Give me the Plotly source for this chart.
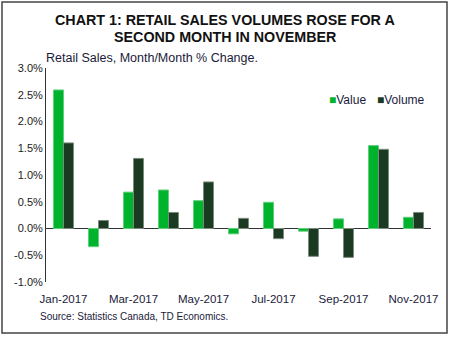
import plotly.graph_objects as go

months = ["Jan-2017", "Feb-2017", "Mar-2017", "Apr-2017", "May-2017", "Jun-2017",
          "Jul-2017", "Aug-2017", "Sep-2017", "Oct-2017", "Nov-2017"]
value = [2.59, -0.34, 0.68, 0.72, 0.52, -0.10, 0.49, -0.05, 0.18, 1.55, 0.21]
volume = [1.60, 0.15, 1.31, 0.30, 0.87, 0.19, -0.19, -0.52, -0.54, 1.48, 0.30]
tick_labels = ["Jan-2017", "Mar-2017", "May-2017", "Jul-2017", "Sep-2017", "Nov-2017"]
y_ticks = [-1.0, -0.5, 0.0, 0.5, 1.0, 1.5, 2.0, 2.5, 3.0]
title_lines = ["CHART 1: RETAIL SALES VOLUMES ROSE FOR A", "SECOND MONTH IN NOVEMBER"]
series_names = ["Value", "Volume"]

FONT = "Liberation Sans, Arial, sans-serif"
C_VAL = "#00B32C"
C_VOL = "#1B3A22"

fig = go.Figure()
fig.add_trace(go.Bar(x=months, y=value, name=series_names[0],
                     marker=dict(color=C_VAL, line=dict(color="#5fd07a", width=1))))
fig.add_trace(go.Bar(x=months, y=volume, name=series_names[1],
                     marker=dict(color=C_VOL, line=dict(color="#7a8a7c", width=1))))

L, R, T, B = 46, 19, 68, 57
pw, ph = 450 - L - R, 339 - T - B

def px2paper(px, py):
    return (px - L) / pw, (339 - B - py) / ph

fig.update_layout(
    width=450, height=339,
    margin=dict(l=L, r=R, t=T, b=B),
    paper_bgcolor="white", plot_bgcolor="white",
    barmode="group", bargap=0.43, bargroupgap=0,
    font=dict(family=FONT, color="#1a1a1a", size=11),
    showlegend=False,
    xaxis=dict(type="category", tickvals=tick_labels, ticktext=tick_labels,
               showline=False, showgrid=False, zeroline=False,
               ticks="outside", ticklen=6, tickcolor="rgba(0,0,0,0)",
               tickfont=dict(size=11.5, color="#1a1a3a")),
    yaxis=dict(range=[-1.0, 3.0], tickvals=y_ticks,
               ticktext=[f"{v:.1f}%" for v in y_ticks],
               showline=True, linecolor="#333333", linewidth=1,
               showgrid=False, zeroline=True, zerolinecolor="#333333", zerolinewidth=1,
               ticks="", tickfont=dict(size=11, color="#1a1a1a")),
)

anns = []
cx = (225 - L) / pw
for line, py in zip(title_lines, [20, 37.5]):
    _, y = px2paper(225, py)
    anns.append(dict(text=f"<b>{line}</b>", x=cx, y=y, xref="paper", yref="paper",
                     xanchor="center", yanchor="middle", showarrow=False,
                     font=dict(size=14.3, color="#111111")))
x, y = px2paper(44, 58)
anns.append(dict(text="Retail Sales, Month/Month % Change.", x=x, y=y,
                 xref="paper", yref="paper", xanchor="left", yanchor="middle",
                 showarrow=False, font=dict(size=12.5, color="#1a1a3a")))
x, y = px2paper(38, 316)
anns.append(dict(text="Source: Statistics Canada, TD Economics.", x=x, y=y,
                 xref="paper", yref="paper", xanchor="left", yanchor="middle",
                 showarrow=False, font=dict(size=10, color="#1a1a3a")))
for name, col, lx in zip(series_names, [C_VAL, C_VOL], [327, 375]):
    x, y = px2paper(lx, 100)
    anns.append(dict(text=f"<span style='color:{col}'>■</span>{name}",
                     x=x, y=y, xref="paper", yref="paper", xanchor="left", yanchor="middle",
                     showarrow=False, font=dict(size=12, color="#1a1a3a")))
fig.update_layout(annotations=anns)

x0, y0 = px2paper(2, 333)
x1, y1 = px2paper(447, 2)
fig.add_shape(type="rect", xref="paper", yref="paper", x0=x0, x1=x1, y0=y0, y1=y1,
              line=dict(color="#444444", width=1.5))

fig.write_html("out.html")
